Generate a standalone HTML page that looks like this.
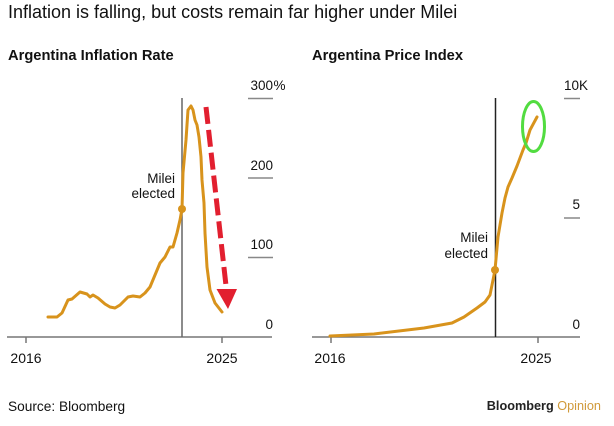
<!DOCTYPE html>
<html><head><meta charset="utf-8">
<style>
html,body{margin:0;padding:0;background:#fff;}
svg{display:block;}
text{font-family:"Liberation Sans",Arial,sans-serif;fill:#111;}
</style></head>
<body>
<svg width="614" height="426" viewBox="0 0 614 426" xmlns="http://www.w3.org/2000/svg">
<rect width="614" height="426" fill="#fff"/>
<text x="8" y="18" font-size="18">Inflation is falling, but costs remain far higher under Milei</text>
<text x="8" y="60" font-size="14.7" font-weight="bold">Argentina Inflation Rate</text>
<text x="312" y="60" font-size="14.7" font-weight="bold">Argentina Price Index</text>

<!-- LEFT CHART -->
<g stroke="#888" stroke-width="1.5">
<line x1="248" y1="98.5" x2="273" y2="98.5"/>
<line x1="248" y1="178" x2="273" y2="178"/>
<line x1="248" y1="257.5" x2="273" y2="257.5"/>
</g>
<line x1="7" y1="337" x2="272" y2="337" stroke="#777" stroke-width="1.5"/>
<line x1="26" y1="337" x2="26" y2="343" stroke="#777" stroke-width="1.5"/>
<line x1="222" y1="337" x2="222" y2="343" stroke="#777" stroke-width="1.5"/>
<line x1="182" y1="98" x2="182" y2="337" stroke="#666" stroke-width="1.5"/>
<g font-size="13.5" text-anchor="end">
<text x="273" y="90">300</text>
<text x="273" y="170">200</text>
<text x="273" y="249">100</text>
<text x="273" y="329">0</text>
</g>
<text x="273.5" y="90" font-size="13.5">%</text>
<g font-size="14" text-anchor="middle">
<text x="26" y="363">2016</text>
<text x="222" y="363">2025</text>
</g>
<g font-size="13.5" text-anchor="end">
<text x="175" y="183">Milei</text>
<text x="175" y="198">elected</text>
</g>
<polyline fill="none" stroke="#d8931c" stroke-width="3" stroke-linejoin="round" stroke-linecap="round"
points="48,317 57,317 62,313 68,300 72,299 80,292 87,294 90,297 93,295 98,298 105,304 110,307 115,308 120,305 128,297 133,296 140,297 145,293 150,287 155,275 160,263 165,257 170,247 173,247 177,233 180,220 182,209 183,173 186,140 188,110 191,106 193,110 195,120 197,125 199,137 201,157 202,180 204,203 205,233 207,267 210,290 215,303 222,312"/>
<circle cx="182" cy="209" r="4" fill="#d8931c"/>
<line x1="206" y1="107" x2="226.5" y2="290" stroke="#e21f2f" stroke-width="5" stroke-dasharray="17 6"/>
<polygon points="216.5,289 237,289 228,309" fill="#e21f2f"/>

<!-- RIGHT CHART -->
<g stroke="#888" stroke-width="1.5">
<line x1="564" y1="98.5" x2="580" y2="98.5"/>
<line x1="564" y1="218" x2="580" y2="218"/>
</g>
<line x1="312" y1="337" x2="580" y2="337" stroke="#777" stroke-width="1.5"/>
<line x1="331" y1="337" x2="331" y2="343" stroke="#777" stroke-width="1.5"/>
<line x1="538" y1="337" x2="538" y2="343" stroke="#777" stroke-width="1.5"/>
<line x1="495.5" y1="98" x2="495.5" y2="337" stroke="#222" stroke-width="1.5"/>
<g font-size="13.5" text-anchor="end">
<text x="580" y="209">5</text>
<text x="580" y="329">0</text>
</g>
<text x="564" y="90" font-size="13.5">10K</text>
<g font-size="14" text-anchor="middle">
<text x="330" y="363">2016</text>
<text x="536" y="363">2025</text>
</g>
<g font-size="13.5" text-anchor="end">
<text x="488" y="242">Milei</text>
<text x="488" y="258">elected</text>
</g>
<polyline fill="none" stroke="#d8931c" stroke-width="3" stroke-linejoin="round" stroke-linecap="round"
points="330,336 374,334 424,328 452,323 464,317 477,308 485,302 490,295 495,270 498,237 502,213 505,198 508,187 512,178 517,166 523,150 526,143 530,130 537,117"/>
<circle cx="495" cy="270" r="4" fill="#d8931c"/>
<ellipse cx="533.5" cy="126.5" rx="11" ry="25" fill="none" stroke="#52dc40" stroke-width="3"/>

<text x="8" y="411" font-size="13.7">Source: Bloomberg</text>
<text x="601" y="410" font-size="12.7" text-anchor="end"><tspan font-weight="bold" fill="#222">Bloomberg</tspan><tspan fill="#d09a3a"> Opinion</tspan></text>
</svg>
</body></html>
